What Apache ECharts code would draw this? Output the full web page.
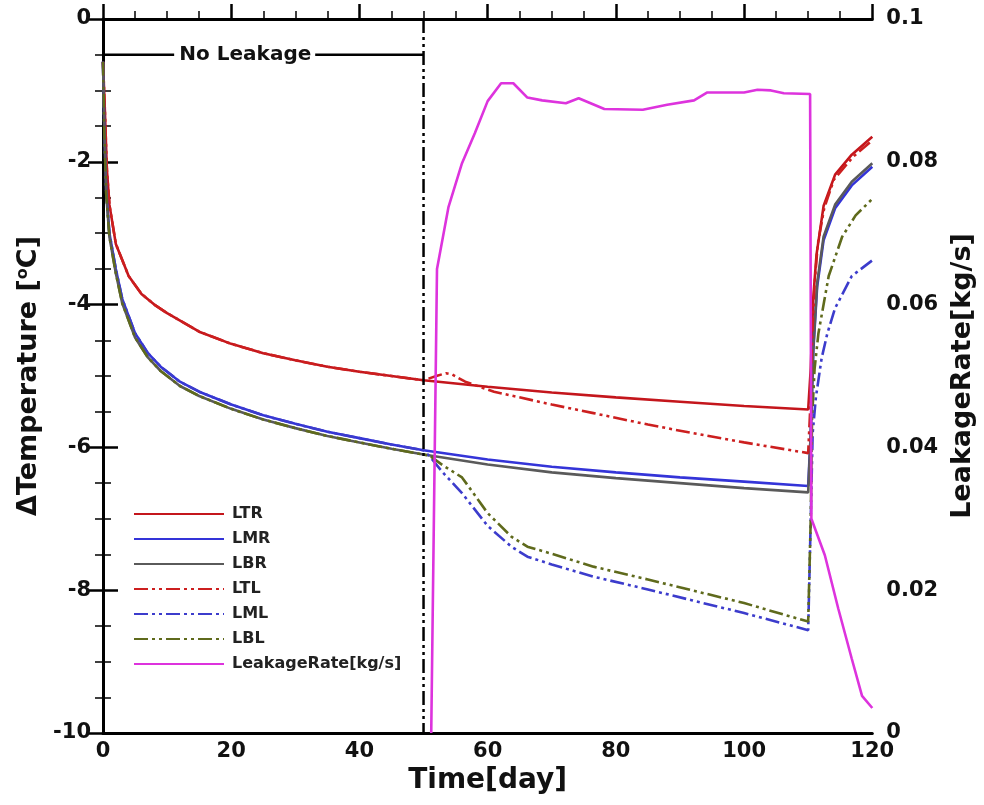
<!DOCTYPE html>
<html>
<head>
<meta charset="utf-8">
<script src="https://cdn.jsdelivr.net/npm/echarts@6/dist/echarts.min.js"></script>
<style>html,body{margin:0;padding:0;background:#fff}#c{width:984px;height:805px}</style>
</head>
<body>
<div id="c"></div>
<script>
// ---- data ----
const xTicks = [0, 20, 40, 60, 80, 100, 120];
const yLeftTicks = [-10, -8, -6, -4, -2, 0];
const yRightTicks = [0, 0.02, 0.04, 0.06, 0.08, 0.1];

const tLTR = [0, 0.3, 0.6, 1, 2, 4, 6, 8, 10, 15, 20, 25, 30, 35, 40, 45, 50, 60, 70, 80, 90, 100, 110, 110.4, 110.8, 111.3, 112.4, 114.2, 116.8, 120];
const vLTR = [-0.6, -1.3, -2.1, -2.6, -3.15, -3.6, -3.85, -4.0, -4.12, -4.38, -4.55, -4.68, -4.78, -4.87, -4.94, -5.0, -5.06, -5.15, -5.23, -5.3, -5.36, -5.42, -5.47, -4.9, -3.9, -3.3, -2.62, -2.18, -1.9, -1.65];

const tLMR = [0, 0.2, 0.5, 1, 2, 3, 5, 7, 9, 12, 15, 20, 25, 30, 35, 40, 45, 50, 60, 70, 80, 90, 100, 110, 110.4, 110.8, 111.4, 112.4, 114.2, 116.8, 120];
const vLMR = [-0.6, -1.5, -2.4, -3.0, -3.5, -3.92, -4.4, -4.68, -4.87, -5.08, -5.22, -5.4, -5.55, -5.67, -5.78, -5.87, -5.96, -6.04, -6.17, -6.27, -6.35, -6.42, -6.48, -6.54, -5.8, -4.65, -3.75, -3.1, -2.65, -2.33, -2.07];

const tLBR = [0, 0.2, 0.5, 1, 2, 3, 5, 7, 9, 12, 15, 20, 25, 30, 35, 40, 45, 50, 60, 70, 80, 90, 100, 110, 110.4, 110.8, 111.4, 112.4, 114.2, 116.8, 120];
const vLBR = [-0.6, -1.55, -2.45, -3.05, -3.56, -3.98, -4.46, -4.74, -4.93, -5.14, -5.28, -5.46, -5.61, -5.73, -5.84, -5.93, -6.02, -6.1, -6.24, -6.35, -6.43, -6.5, -6.57, -6.63, -5.8, -4.6, -3.7, -3.05, -2.6, -2.28, -2.02];

const tLTL = [0, 0.3, 0.6, 1, 2, 4, 6, 8, 10, 15, 20, 25, 30, 35, 40, 45, 50, 52, 53.5, 54.5, 56.5, 61, 70, 76.5, 85, 92, 100, 110, 110.3, 110.6, 111, 111.5, 112.5, 114, 117, 120];
const vLTL = [-0.6, -1.3, -2.1, -2.6, -3.15, -3.6, -3.85, -4.0, -4.12, -4.38, -4.55, -4.68, -4.78, -4.87, -4.94, -5.0, -5.06, -5.0, -4.96, -4.98, -5.08, -5.22, -5.4, -5.52, -5.68, -5.8, -5.93, -6.08, -5.5, -4.5, -3.7, -3.15, -2.65, -2.25, -1.93, -1.7];

const tLML = [0, 0.2, 0.5, 1, 2, 3, 5, 7, 9, 12, 15, 20, 25, 30, 35, 40, 45, 50, 51, 53, 56, 60, 63.7, 66.2, 70, 76.5, 85, 91.8, 100, 110, 110.4, 110.7, 111.2, 112.1, 113, 114.2, 116.8, 120];
const vLML = [-0.6, -1.5, -2.4, -3.0, -3.5, -3.92, -4.4, -4.68, -4.87, -5.08, -5.22, -5.4, -5.55, -5.67, -5.78, -5.87, -5.96, -6.04, -6.13, -6.35, -6.64, -7.1, -7.39, -7.53, -7.64, -7.81, -7.99, -8.14, -8.32, -8.56, -7.0, -5.8, -5.3, -4.75, -4.4, -4.05, -3.6, -3.38];

const tLBL = [0, 0.2, 0.5, 1, 2, 3, 5, 7, 9, 12, 15, 20, 25, 30, 35, 40, 45, 50, 51, 53, 56, 60, 63.7, 66.2, 70, 76.5, 85, 91.8, 100, 110, 110.4, 110.6, 111, 111.6, 112.5, 113.2, 115.3, 117.4, 120];
const vLBL = [-0.6, -1.55, -2.45, -3.05, -3.56, -3.98, -4.46, -4.74, -4.93, -5.14, -5.28, -5.46, -5.61, -5.73, -5.84, -5.93, -6.02, -6.1, -6.12, -6.25, -6.42, -6.92, -7.25, -7.39, -7.49, -7.67, -7.85, -8.0, -8.18, -8.44, -7.0, -5.6, -4.9, -4.4, -3.95, -3.6, -3.05, -2.75, -2.52];

const tLeak = [51.2, 52.1, 53.9, 56, 58, 60, 62.1, 64, 66.2, 68.5, 72.2, 74.2, 78.2, 84.2, 88, 92.2, 94.2, 100, 102.1, 104.2, 106.2, 110.3, 110.5, 112.6, 114.7, 116.8, 118.4, 120];
const vLeak = [0, 0.065, 0.0737, 0.0798, 0.084, 0.0885, 0.091, 0.091, 0.089, 0.0886, 0.0882, 0.0889, 0.0874, 0.0873, 0.088, 0.0886, 0.0897, 0.0897, 0.0901, 0.09, 0.0896, 0.0895, 0.03, 0.0249, 0.0174, 0.0104, 0.0052, 0.0035];

// annotation (No Leakage marker and leakage start line)
const startDay = 50;
const noLeakLevel = -0.5;
const noLeakLeftSeg = [0, 11.1];
const noLeakRightSeg = [33.1, 50];
const noLeakTextX = 22.2;

const zip = (a, b) => a.map((x, i) => [x, b[i]]);
const FONT = 'DejaVu Sans';
const dashDot2 = [14, 4, 3, 4, 3, 4];

function curve(name, t, v, color, dashed, yIdx) {
  return {
    name, type: 'line', yAxisIndex: yIdx || 0, data: zip(t, v),
    showSymbol: false, symbol: 'none', smooth: false,
    lineStyle: { color, width: 2.6, type: dashed ? dashDot2 : 'solid' },
    itemStyle: { color }, z: 3
  };
}

const chart = echarts.init(document.getElementById('c'));
const axisLine = { show: true, lineStyle: { color: '#000', width: 3 } };
const tickCfg = { show: true, inside: true, length: 15, lineStyle: { color: '#000', width: 2.5 } };
const minorCfg = { show: true, splitNumber: 4, length: 8, lineStyle: { color: '#000', width: 1.5 } };
const lblCfg = { fontFamily: FONT, fontWeight: 'bold', fontSize: 21, color: '#111' };

chart.setOption({
  animation: false,
  backgroundColor: '#fff',
  grid: { left: 103, right: 101, top: 19, bottom: 72, containLabel: false },
  legend: {
    orient: 'vertical', left: 133, top: 506, padding: 0,
    itemWidth: 90, itemHeight: 14, itemGap: 9,
    data: ['LTR', 'LMR', 'LBR', 'LTL', 'LML', 'LBL', 'LeakageRate[kg/s]'],
    itemStyle: { opacity: 0 },
    textStyle: { fontFamily: FONT, fontWeight: 'bold', fontSize: 16, color: '#222', padding: [0, 0, 0, 3] }
  },
  xAxis: [{
    type: 'value', min: xTicks[0], max: xTicks[xTicks.length - 1], interval: 20,
    axisLine, axisTick: tickCfg, minorTick: minorCfg, splitLine: { show: false },
    axisLabel: Object.assign({ margin: 8 }, lblCfg),
    name: 'Time[day]', nameLocation: 'middle', nameGap: 27,
    nameTextStyle: { fontFamily: FONT, fontWeight: 'bold', fontSize: 28, color: '#111' }
  }, {
    type: 'value', position: 'top', min: 0, max: 120,
    axisLine, axisTick: { show: false }, axisLabel: { show: false }, splitLine: { show: false }
  }],
  yAxis: [{
    type: 'value', min: yLeftTicks[0], max: yLeftTicks[yLeftTicks.length - 1], interval: 2,
    axisLine, axisTick: tickCfg, minorTick: minorCfg, splitLine: { show: false },
    axisLabel: Object.assign({ margin: 12 }, lblCfg),
    name: '{t|ΔTemperature [}{s|o}{t|C]}', nameLocation: 'middle', nameGap: 60, nameRotate: 90,
    nameTextStyle: {
      rich: {
        t: { fontFamily: FONT, fontWeight: 'bold', fontSize: 27, color: '#111' },
        s: { fontFamily: FONT, fontWeight: 'bold', fontSize: 16, color: '#111', verticalAlign: 'top', lineHeight: 27, padding: [0, 0, 10, 0] }
      }
    }
  }, {
    type: 'value', position: 'right', min: yRightTicks[0], max: yRightTicks[yRightTicks.length - 1], interval: 0.02,
    axisLine, axisTick: tickCfg, minorTick: minorCfg, splitLine: { show: false },
    axisLabel: Object.assign({ margin: 14, formatter: v => v === 0 ? '0' : String(+v.toFixed(2)) }, lblCfg),
    name: 'LeakageRate[kg/s]', nameLocation: 'middle', nameGap: 64, nameRotate: 90,
    nameTextStyle: { fontFamily: FONT, fontWeight: 'bold', fontSize: 27, color: '#111' }
  }],
  series: [
    curve('LTR', tLTR, vLTR, '#c4161c', false),
    curve('LMR', tLMR, vLMR, '#3434d8', false),
    curve('LBR', tLBR, vLBR, '#5a5a5a', false),
    curve('LTL', tLTL, vLTL, '#cc1f1f', true),
    curve('LML', tLML, vLML, '#3c3ccc', true),
    curve('LBL', tLBL, vLBL, '#5f6a1c', true),
    {
      name: 'startLine', type: 'line', data: [[startDay, yLeftTicks[yLeftTicks.length - 1]], [startDay, yLeftTicks[0]]],
      symbol: 'none', lineStyle: { color: '#000', width: 2.5, type: dashDot2 }, z: 4, silent: true
    },
    {
      name: 'noLeakL', type: 'line', data: noLeakLeftSeg.map(x => [x, noLeakLevel]),
      symbol: 'none', lineStyle: { color: '#000', width: 2.5 }, z: 4, silent: true
    },
    {
      name: 'noLeakR', type: 'line', data: noLeakRightSeg.map(x => [x, noLeakLevel]),
      symbol: 'none', lineStyle: { color: '#000', width: 2.5 }, z: 4, silent: true
    },
    {
      name: 'noLeakText', type: 'scatter', data: [[noLeakTextX, noLeakLevel]], symbolSize: 1, silent: true,
      itemStyle: { opacity: 1, color: 'rgba(0,0,0,0)' },
      label: { show: true, position: 'inside', formatter: 'No Leakage', fontFamily: FONT, fontWeight: 'bold', fontSize: 20, color: '#111', opacity: 1 }, z: 5
    },
    Object.assign(curve('LeakageRate[kg/s]', tLeak, vLeak, '#dd33dd', false, 1), { z: 6 })
  ]
});
</script>
</body>
</html>
